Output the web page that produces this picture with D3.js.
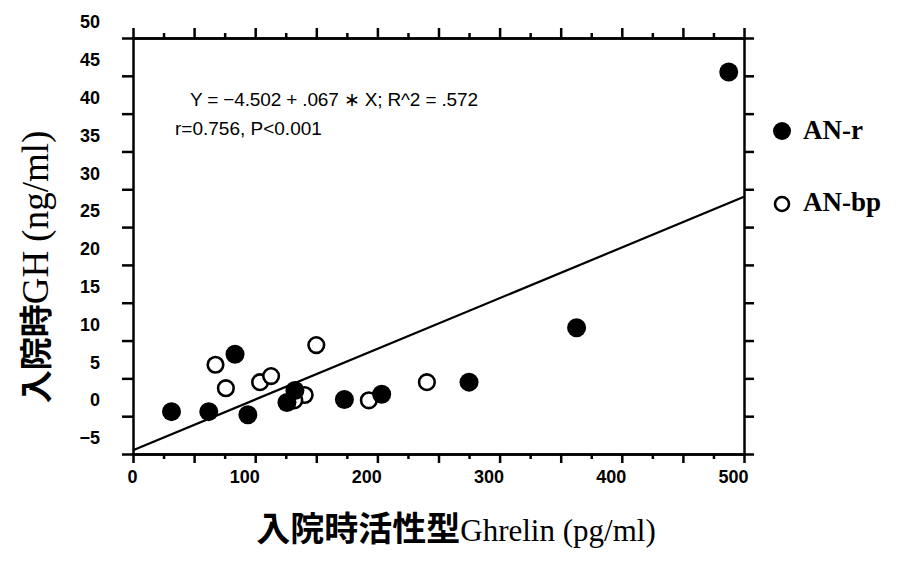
<!DOCTYPE html>
<html>
<head>
<meta charset="utf-8">
<script src="https://cdn.jsdelivr.net/npm/d3@7"></script>
<style>
  body { margin: 0; background: #fff; }
  svg { display: block; }
</style>
</head>
<body>
<svg id="chart"></svg>
<script>
// values
const anrX = [31.5, 62, 83.5, 94, 126, 132.5, 173, 203.5, 275, 363, 487.5];
const anrY = [0.6, 0.6, 8.2, 0.2, 1.8, 3.4, 2.2, 2.9, 4.5, 11.7, 45.5];
const anbpX = [67.5, 76, 104, 113, 150, 140.5, 132, 193, 240.5];
const anbpY = [6.8, 3.7, 4.5, 5.3, 9.4, 2.8, 2.1, 2.1, 4.5];
const xTicks = [0, 100, 200, 300, 400, 500];
const xMinor = d3.range(0, 501, 25);
const yTicks = [-5, 0, 5, 10, 15, 20, 25, 30, 35, 40, 45, 50];
const fitA = -4.502, fitB = 0.067;
const eqText = "Y = −4.502 + .067 ∗ X; R^2 = .572";
const rText = "r=0.756, P<0.001";
const legendLabels = ["AN-r", "AN-bp"];

const width = 900, height = 568;
const svg = d3.select("#chart").attr("width", width).attr("height", height);

var x = d3.scaleLinear().domain([0, 500]).range([133, 744]);
var y = d3.scaleLinear().domain([-5, 50]).range([454, 38]);

const tickFont = "'Liberation Sans', Arial, sans-serif";

// left axis, labels sit half a step above the ticks like in the scan
const gl = svg.append("g").attr("transform", "translate(" + x(0) + ",0)")
    .call(d3.axisLeft(y).tickValues(yTicks).tickSize(11).tickSizeOuter(0));
gl.selectAll("text")
    .attr("x", -33).attr("y", -16.5).attr("dy", "0.35em")
    .style("font", "bold 18px " + tickFont).attr("fill", "#000");

// right axis
svg.append("g").attr("transform", "translate(" + x(500) + ",0)")
    .call(d3.axisRight(y).tickValues(yTicks).tickSize(10).tickSizeOuter(0).tickFormat(""));

// bottom axis: major + minor ticks
svg.append("g").attr("transform", "translate(0," + y(-5) + ")")
    .call(d3.axisBottom(x).tickValues(xMinor.filter(d => d % 50 != 0)).tickSize(5).tickSizeOuter(0).tickFormat(""));
const gb = svg.append("g").attr("transform", "translate(0," + y(-5) + ")")
    .call(d3.axisBottom(x).tickValues(xMinor.filter(d => d % 50 == 0)).tickSize(9).tickSizeOuter(0)
        .tickFormat(d => xTicks.includes(d) ? d : ""));
gb.selectAll("text")
    .attr("y", 29).attr("dy", 0).attr("x", 4).attr("text-anchor", "end")
    .style("font", "bold 18px " + tickFont).attr("fill", "#000");

// top axis
svg.append("g").attr("transform", "translate(0," + y(50) + ")")
    .call(d3.axisTop(x).tickValues(xMinor.filter(d => d % 50 != 0)).tickSize(5).tickSizeOuter(0).tickFormat(""));
svg.append("g").attr("transform", "translate(0," + y(50) + ")")
    .call(d3.axisTop(x).tickValues(xMinor.filter(d => d % 50 == 0)).tickSize(10).tickSizeOuter(0).tickFormat(""));

svg.selectAll(".domain, .tick line").attr("stroke", "#000").attr("stroke-width", 2.5);

// regression line
svg.append("line")
    .attr("x1", x(0)).attr("y1", y(fitA))
    .attr("x2", x(500)).attr("y2", y(fitA + fitB * 500))
    .attr("stroke", "#000").attr("stroke-width", 2.2);

// open circles first, filled ones on top
svg.selectAll("circle.bp")
    .data(anbpX.map((d, i) => [d, anbpY[i]]))
    .enter().append("circle").attr("class", "bp")
    .attr("cx", d => x(d[0])).attr("cy", d => y(d[1]))
    .attr("r", 7.8).attr("fill", "#fff").attr("stroke", "#000").attr("stroke-width", 2.6);

svg.selectAll("circle.r")
    .data(anrX.map((d, i) => [d, anrY[i]]))
    .enter().append("circle").attr("class", "r")
    .attr("cx", d => x(d[0])).attr("cy", d => y(d[1]))
    .attr("r", 9.5).attr("fill", "#000");

// equation text
svg.append("text").attr("x", 190).attr("y", 106)
    .attr("textLength", 288).attr("lengthAdjust", "spacing")
    .style("font", "19px " + tickFont).text(eqText);
svg.append("text").attr("x", 175).attr("y", 135)
    .style("font", "19px " + tickFont).text(rText);

// legend
const lg = svg.append("g");
lg.append("circle").attr("cx", 782).attr("cy", 131).attr("r", 9).attr("fill", "#000");
lg.append("circle").attr("cx", 782).attr("cy", 204).attr("r", 7).attr("fill", "#fff")
    .attr("stroke", "#000").attr("stroke-width", 2.6);
lg.selectAll("text").data(legendLabels).enter().append("text")
    .attr("x", 803).attr("y", (d, i) => i == 0 ? 139 : 211)
    .style("font", "bold 27px 'Liberation Serif', 'Times New Roman', serif")
    .text(d => d);

// axis titles
const cjk = "'Noto Sans CJK JP', sans-serif";
const serif = "'Liberation Serif', 'Times New Roman', serif";

const yt = svg.append("text")
    .attr("transform", "translate(48,267) rotate(-90)")
    .attr("text-anchor", "middle");
yt.append("tspan").style("font", "bold 33px " + cjk).text("入院時");
yt.append("tspan").style("font", "37px " + serif).text("GH (ng/ml)");

const xt = svg.append("text")
    .attr("x", 456).attr("y", 541)
    .attr("text-anchor", "middle");
xt.append("tspan").style("font", "bold 34px " + cjk).text("入院時活性型");
xt.append("tspan").style("font", "31px " + serif).text("Ghrelin (pg/ml)");
</script>
</body>
</html>
